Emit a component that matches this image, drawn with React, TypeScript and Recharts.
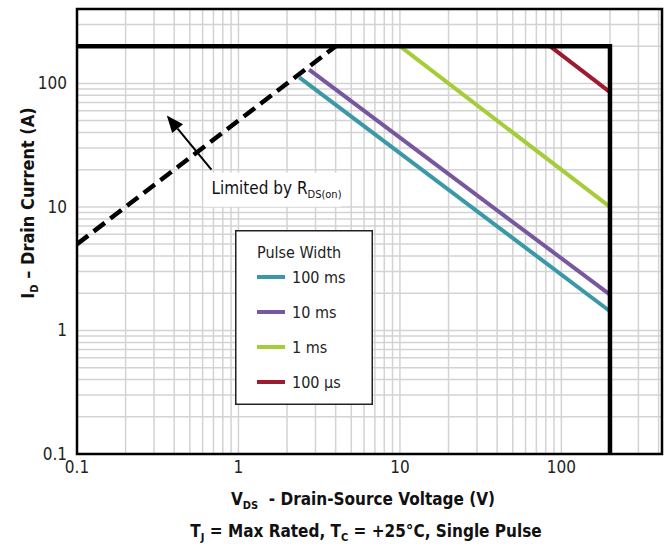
import React from 'react';
import {
  ComposedChart, Line, XAxis, YAxis, CartesianGrid, ReferenceArea, ReferenceLine, Legend
} from 'recharts';

const FONT = "'Liberation Sans Narrow', 'DejaVu Sans Condensed', 'Arial Narrow', sans-serif";

// Drain-source voltage (V) / drain current (A) pairs
const rdsV = [0.1, 4];
const rdsI = [5, 200];
const limitV = [0.1, 200, 200];
const limitI = [200, 200, 0.1];
const ms100V = [2.38, 200];
const ms100I = [112, 1.43];
const ms10V = [2.74, 200];
const ms10I = [129, 1.95];
const ms1V = [10, 200];
const ms1I = [200, 10];
const us100V = [85, 200];
const us100I = [200, 85];

// arrow for the RDS(on) note: from tail to head
const noteV = [0.68, 0.36];
const noteI = [20, 55];

const majorTicks = [0.1, 1, 10, 100];
const gridTicks = [
  0.1, 0.2, 0.3, 0.4, 0.5, 0.6, 0.7, 0.8, 0.9,
  1, 2, 3, 4, 5, 6, 7, 8, 9,
  10, 20, 30, 40, 50, 60, 70, 80, 90,
  100, 200, 300, 400,
];

const pulses = [
  { name: '100 ms', color: '#3a98a8', v: ms100V, i: ms100I },
  { name: '10 ms', color: '#7758a0', v: ms10V, i: ms10I },
  { name: '1 ms', color: '#a5cd39', v: ms1V, i: ms1I },
  { name: '100 µs', color: '#9b1b30', v: us100V, i: us100I },
];

const toPts = (v: number[], i: number[]) => v.map((x, k) => ({ v: x, i: i[k] }));
const fmt = (t: number) => (majorTicks.includes(t) ? String(t) : '');

const LegendBox = () => (
  <svg width={138} height={175} style={{ display: 'block' }}>
    <rect x={0.75} y={0.75} width={136.5} height={173.5} fill="#fff" stroke="#222" strokeWidth={1.5} />
    <text x={22} y={28} fontFamily={FONT} fontSize={16} fill="#222">Pulse Width</text>
    {pulses.map((p, k) => {
      const y = 47 + k * 35;
      return (
        <g key={p.name}>
          <line x1={22} x2={50} y1={y} y2={y} stroke={p.color} strokeWidth={4} />
          <text x={57} y={y + 6} fontFamily={FONT} fontSize={16} fill="#222">{p.name}</text>
        </g>
      );
    })}
  </svg>
);

const ArrowNote = (props: any) => {
  const { x1, y1, x2, y2 } = props;
  const ang = Math.atan2(y2 - y1, x2 - x1);
  const len = 17, half = 7;
  const bx = x2 - len * Math.cos(ang), by = y2 - len * Math.sin(ang);
  const px = -Math.sin(ang) * half, py = Math.cos(ang) * half;
  return (
    <g>
      <rect x={x1 - 8} y={y1 + 3} width={138} height={34} fill="#fff" />
      <line x1={x1} y1={y1} x2={bx} y2={by} stroke="#000" strokeWidth={2} />
      <polygon points={`${x2},${y2} ${bx + px},${by + py} ${bx - px},${by - py}`} fill="#000" />
      <text x={x1} y={y1 + 24} fontFamily={FONT} fontSize={17} fill="#111">
        Limited by R<tspan fontSize={11} dy={4}>DS(on)</tspan>
      </text>
    </g>
  );
};

const XTitle = () => (
  <g fontFamily={FONT} fontWeight="bold" fill="#111" textAnchor="middle">
    <text x={363} y={505} fontSize={17}>
      V<tspan fontSize={11} dy={4}>DS</tspan><tspan dy={-4}>{'\u00a0\u00a0- Drain-Source Voltage (V)'}</tspan>
    </text>
    <text x={366} y={537} fontSize={17}>
      T<tspan fontSize={11} dy={4}>J</tspan><tspan dy={-4}>{' = Max Rated, T'}</tspan>
      <tspan fontSize={11} dy={4}>C</tspan><tspan dy={-4}>{' = +25°C, Single Pulse'}</tspan>
    </text>
  </g>
);

const YTitle = () => (
  <text
    transform="translate(34, 203) rotate(-90)" textAnchor="middle"
    fontFamily={FONT} fontWeight="bold" fontSize={18} fill="#111"
  >
    I<tspan fontSize={11} dy={4}>D</tspan><tspan dy={-4}>{' – Drain Current (A)'}</tspan>
  </text>
);

export default function App() {
  return (
    <div style={{ position: 'absolute', left: 0, top: 0, width: 667, height: 544, background: '#fff' }}>
      <ComposedChart width={667} height={544} margin={{ top: 9, right: 5, bottom: 60, left: 0 }}>
        <CartesianGrid stroke="#d3d3d3" strokeWidth={1.5} />
        <XAxis
          dataKey="v" type="number" scale="log" domain={[0.1, 420]} allowDataOverflow
          ticks={gridTicks} tickFormatter={fmt} interval={0} height={30}
          axisLine={false} tickLine={false} tickSize={5} tickMargin={2}
          tick={{ fontSize: 17, fill: '#222', fontFamily: FONT }}
          label={<XTitle />}
        />
        <YAxis
          dataKey="i" type="number" scale="log" domain={[0.1, 400]} allowDataOverflow
          ticks={gridTicks} tickFormatter={fmt} interval={0} width={77}
          axisLine={false} tickLine={false} tickSize={8} tickMargin={2}
          tick={{ fontSize: 17, fill: '#222', fontFamily: FONT }}
          label={<YTitle />}
        />
        <ReferenceArea x1={0.1} x2={420} y1={0.1} y2={400} fill="none" stroke="#000" strokeWidth={2.5} />
        <ReferenceLine
          segment={[{ x: noteV[0], y: noteI[0] }, { x: noteV[1], y: noteI[1] }]}
          shape={<ArrowNote />}
        />
        <Line data={toPts(rdsV, rdsI)} dataKey="i" stroke="#000" strokeWidth={4.5} strokeDasharray="14 7"
          dot={false} isAnimationActive={false} legendType="none" />
        {pulses.map(p => (
          <Line key={p.name} data={toPts(p.v, p.i)} dataKey="i" name={p.name} stroke={p.color}
            strokeWidth={4} dot={false} isAnimationActive={false} />
        ))}
        <Line data={toPts(limitV, limitI)} dataKey="i" stroke="#000" strokeWidth={4.5}
          dot={false} isAnimationActive={false} legendType="none" />
        <Legend
          layout="vertical" align="center" verticalAlign="middle"
          wrapperStyle={{ left: 235, top: 230, width: 138, height: 175 }}
          content={() => <LegendBox />}
        />
      </ComposedChart>
    </div>
  );
}
